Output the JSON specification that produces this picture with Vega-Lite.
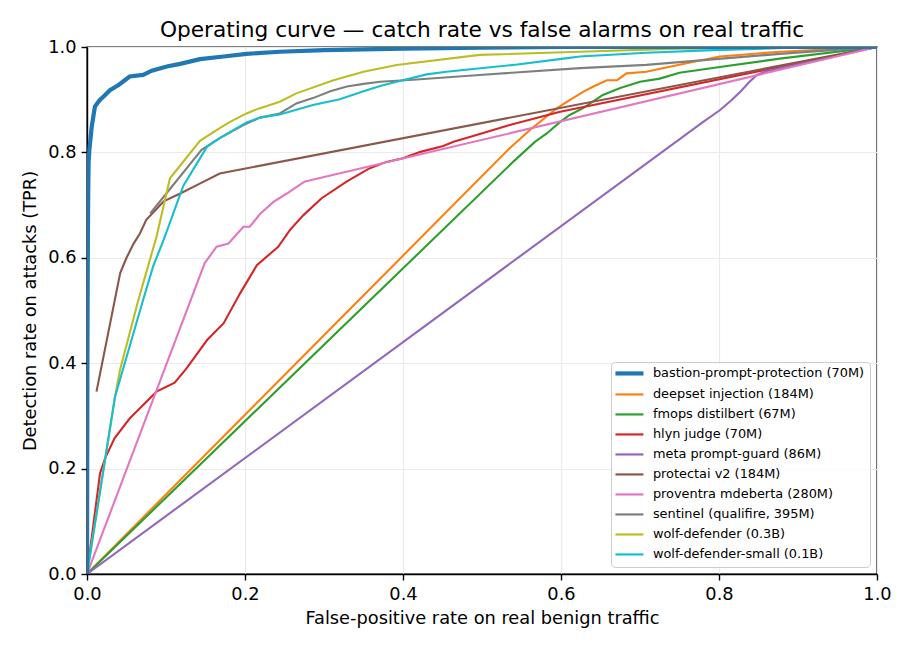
{
  "$schema": "https://vega.github.io/schema/vega-lite/v6.json",
  "autosize": {"type": "none"},
  "padding": {"left": 87, "top": 47, "right": 33, "bottom": 76},
  "width": 790,
  "height": 527,
  "background": "white",
  "title": {"text": "Operating curve — catch rate vs false alarms on real traffic", "font": "DejaVu Sans", "fontSize": 21.7, "fontWeight": "normal", "color": "black", "offset": -4, "frame": "group"},
  "config": {
    "font": "DejaVu Sans",
    "view": {"stroke": "black", "strokeWidth": 1.4},
    "axis": {"labelFont": "DejaVu Sans", "titleFont": "DejaVu Sans", "labelFontSize": 17.8, "titleFontSize": 17.8, "titleFontWeight": "normal", "labelColor": "black", "titleColor": "black", "tickColor": "black", "tickWidth": 1.4, "domainColor": "black", "domainWidth": 1.4, "tickSize": 6, "labelPadding": 5, "labelFlush": false, "labelOverlap": false, "gridColor": "#ebebeb", "gridWidth": 1.2}
  },
  "data": {"values": [
    {"model": "bastion-prompt-protection (70M)", "fpr": 0, "tpr": 0},
    {"model": "bastion-prompt-protection (70M)", "fpr": 0.0005, "tpr": 0.4},
    {"model": "bastion-prompt-protection (70M)", "fpr": 0.001, "tpr": 0.6},
    {"model": "bastion-prompt-protection (70M)", "fpr": 0.0015, "tpr": 0.72},
    {"model": "bastion-prompt-protection (70M)", "fpr": 0.002, "tpr": 0.78},
    {"model": "bastion-prompt-protection (70M)", "fpr": 0.003, "tpr": 0.805},
    {"model": "bastion-prompt-protection (70M)", "fpr": 0.006, "tpr": 0.849},
    {"model": "bastion-prompt-protection (70M)", "fpr": 0.01, "tpr": 0.887},
    {"model": "bastion-prompt-protection (70M)", "fpr": 0.016, "tpr": 0.899},
    {"model": "bastion-prompt-protection (70M)", "fpr": 0.023, "tpr": 0.909},
    {"model": "bastion-prompt-protection (70M)", "fpr": 0.029, "tpr": 0.918},
    {"model": "bastion-prompt-protection (70M)", "fpr": 0.04, "tpr": 0.928},
    {"model": "bastion-prompt-protection (70M)", "fpr": 0.054, "tpr": 0.944},
    {"model": "bastion-prompt-protection (70M)", "fpr": 0.071, "tpr": 0.947},
    {"model": "bastion-prompt-protection (70M)", "fpr": 0.082, "tpr": 0.955},
    {"model": "bastion-prompt-protection (70M)", "fpr": 0.101, "tpr": 0.963},
    {"model": "bastion-prompt-protection (70M)", "fpr": 0.118, "tpr": 0.968},
    {"model": "bastion-prompt-protection (70M)", "fpr": 0.143, "tpr": 0.977},
    {"model": "bastion-prompt-protection (70M)", "fpr": 0.173, "tpr": 0.982},
    {"model": "bastion-prompt-protection (70M)", "fpr": 0.202, "tpr": 0.987},
    {"model": "bastion-prompt-protection (70M)", "fpr": 0.244, "tpr": 0.991},
    {"model": "bastion-prompt-protection (70M)", "fpr": 0.3, "tpr": 0.994},
    {"model": "bastion-prompt-protection (70M)", "fpr": 0.4, "tpr": 0.997},
    {"model": "bastion-prompt-protection (70M)", "fpr": 0.5, "tpr": 0.999},
    {"model": "bastion-prompt-protection (70M)", "fpr": 0.6, "tpr": 1.0},
    {"model": "bastion-prompt-protection (70M)", "fpr": 1.0, "tpr": 1.0},

    {"model": "deepset injection (184M)", "fpr": 0, "tpr": 0},
    {"model": "deepset injection (184M)", "fpr": 0.535, "tpr": 0.808},
    {"model": "deepset injection (184M)", "fpr": 0.561, "tpr": 0.843},
    {"model": "deepset injection (184M)", "fpr": 0.595, "tpr": 0.884},
    {"model": "deepset injection (184M)", "fpr": 0.611, "tpr": 0.899},
    {"model": "deepset injection (184M)", "fpr": 0.628, "tpr": 0.915},
    {"model": "deepset injection (184M)", "fpr": 0.641, "tpr": 0.925},
    {"model": "deepset injection (184M)", "fpr": 0.658, "tpr": 0.937},
    {"model": "deepset injection (184M)", "fpr": 0.671, "tpr": 0.937},
    {"model": "deepset injection (184M)", "fpr": 0.683, "tpr": 0.95},
    {"model": "deepset injection (184M)", "fpr": 0.708, "tpr": 0.953},
    {"model": "deepset injection (184M)", "fpr": 0.73, "tpr": 0.96},
    {"model": "deepset injection (184M)", "fpr": 0.759, "tpr": 0.969},
    {"model": "deepset injection (184M)", "fpr": 0.801, "tpr": 0.982},
    {"model": "deepset injection (184M)", "fpr": 0.877, "tpr": 0.991},
    {"model": "deepset injection (184M)", "fpr": 1.0, "tpr": 1.0},

    {"model": "fmops distilbert (67M)", "fpr": 0, "tpr": 0},
    {"model": "fmops distilbert (67M)", "fpr": 0.54, "tpr": 0.783},
    {"model": "fmops distilbert (67M)", "fpr": 0.567, "tpr": 0.82},
    {"model": "fmops distilbert (67M)", "fpr": 0.582, "tpr": 0.836},
    {"model": "fmops distilbert (67M)", "fpr": 0.599, "tpr": 0.858},
    {"model": "fmops distilbert (67M)", "fpr": 0.611, "tpr": 0.871},
    {"model": "fmops distilbert (67M)", "fpr": 0.628, "tpr": 0.884},
    {"model": "fmops distilbert (67M)", "fpr": 0.653, "tpr": 0.909},
    {"model": "fmops distilbert (67M)", "fpr": 0.675, "tpr": 0.922},
    {"model": "fmops distilbert (67M)", "fpr": 0.7, "tpr": 0.934},
    {"model": "fmops distilbert (67M)", "fpr": 0.725, "tpr": 0.94},
    {"model": "fmops distilbert (67M)", "fpr": 0.75, "tpr": 0.951},
    {"model": "fmops distilbert (67M)", "fpr": 0.801, "tpr": 0.962},
    {"model": "fmops distilbert (67M)", "fpr": 0.877, "tpr": 0.978},
    {"model": "fmops distilbert (67M)", "fpr": 1.0, "tpr": 1.0},

    {"model": "hlyn judge (70M)", "fpr": 0, "tpr": 0},
    {"model": "hlyn judge (70M)", "fpr": 0.0165, "tpr": 0.191},
    {"model": "hlyn judge (70M)", "fpr": 0.023, "tpr": 0.22},
    {"model": "hlyn judge (70M)", "fpr": 0.035, "tpr": 0.258},
    {"model": "hlyn judge (70M)", "fpr": 0.054, "tpr": 0.295},
    {"model": "hlyn judge (70M)", "fpr": 0.088, "tpr": 0.346},
    {"model": "hlyn judge (70M)", "fpr": 0.111, "tpr": 0.363},
    {"model": "hlyn judge (70M)", "fpr": 0.126, "tpr": 0.39},
    {"model": "hlyn judge (70M)", "fpr": 0.152, "tpr": 0.444},
    {"model": "hlyn judge (70M)", "fpr": 0.173, "tpr": 0.476},
    {"model": "hlyn judge (70M)", "fpr": 0.194, "tpr": 0.533},
    {"model": "hlyn judge (70M)", "fpr": 0.215, "tpr": 0.586},
    {"model": "hlyn judge (70M)", "fpr": 0.242, "tpr": 0.621},
    {"model": "hlyn judge (70M)", "fpr": 0.257, "tpr": 0.653},
    {"model": "hlyn judge (70M)", "fpr": 0.274, "tpr": 0.681},
    {"model": "hlyn judge (70M)", "fpr": 0.297, "tpr": 0.713},
    {"model": "hlyn judge (70M)", "fpr": 0.329, "tpr": 0.745},
    {"model": "hlyn judge (70M)", "fpr": 0.358, "tpr": 0.77},
    {"model": "hlyn judge (70M)", "fpr": 0.379, "tpr": 0.782},
    {"model": "hlyn judge (70M)", "fpr": 0.4, "tpr": 0.789},
    {"model": "hlyn judge (70M)", "fpr": 0.422, "tpr": 0.801},
    {"model": "hlyn judge (70M)", "fpr": 0.451, "tpr": 0.812},
    {"model": "hlyn judge (70M)", "fpr": 0.464, "tpr": 0.82},
    {"model": "hlyn judge (70M)", "fpr": 0.493, "tpr": 0.833},
    {"model": "hlyn judge (70M)", "fpr": 0.535, "tpr": 0.852},
    {"model": "hlyn judge (70M)", "fpr": 0.599, "tpr": 0.877},
    {"model": "hlyn judge (70M)", "fpr": 1.0, "tpr": 1.0},

    {"model": "meta prompt-guard (86M)", "fpr": 0, "tpr": 0},
    {"model": "meta prompt-guard (86M)", "fpr": 0.78, "tpr": 0.858},
    {"model": "meta prompt-guard (86M)", "fpr": 0.801, "tpr": 0.88},
    {"model": "meta prompt-guard (86M)", "fpr": 0.815, "tpr": 0.898},
    {"model": "meta prompt-guard (86M)", "fpr": 0.827, "tpr": 0.915},
    {"model": "meta prompt-guard (86M)", "fpr": 0.838, "tpr": 0.933},
    {"model": "meta prompt-guard (86M)", "fpr": 0.848, "tpr": 0.947},
    {"model": "meta prompt-guard (86M)", "fpr": 0.86, "tpr": 0.954},
    {"model": "meta prompt-guard (86M)", "fpr": 1.0, "tpr": 1.0},

    {"model": "protectai v2 (184M)", "fpr": 0.012, "tpr": 0.346},
    {"model": "protectai v2 (184M)", "fpr": 0.042, "tpr": 0.571},
    {"model": "protectai v2 (184M)", "fpr": 0.05, "tpr": 0.6},
    {"model": "protectai v2 (184M)", "fpr": 0.059, "tpr": 0.627},
    {"model": "protectai v2 (184M)", "fpr": 0.067, "tpr": 0.646},
    {"model": "protectai v2 (184M)", "fpr": 0.075, "tpr": 0.672},
    {"model": "protectai v2 (184M)", "fpr": 0.097, "tpr": 0.707},
    {"model": "protectai v2 (184M)", "fpr": 0.118, "tpr": 0.722},
    {"model": "protectai v2 (184M)", "fpr": 0.139, "tpr": 0.738},
    {"model": "protectai v2 (184M)", "fpr": 0.168, "tpr": 0.76},
    {"model": "protectai v2 (184M)", "fpr": 1.0, "tpr": 1.0},

    {"model": "proventra mdeberta (280M)", "fpr": 0, "tpr": 0},
    {"model": "proventra mdeberta (280M)", "fpr": 0.149, "tpr": 0.59},
    {"model": "proventra mdeberta (280M)", "fpr": 0.164, "tpr": 0.621},
    {"model": "proventra mdeberta (280M)", "fpr": 0.179, "tpr": 0.627},
    {"model": "proventra mdeberta (280M)", "fpr": 0.198, "tpr": 0.659},
    {"model": "proventra mdeberta (280M)", "fpr": 0.206, "tpr": 0.659},
    {"model": "proventra mdeberta (280M)", "fpr": 0.219, "tpr": 0.683},
    {"model": "proventra mdeberta (280M)", "fpr": 0.236, "tpr": 0.706},
    {"model": "proventra mdeberta (280M)", "fpr": 0.253, "tpr": 0.722},
    {"model": "proventra mdeberta (280M)", "fpr": 0.272, "tpr": 0.741},
    {"model": "proventra mdeberta (280M)", "fpr": 0.276, "tpr": 0.745},
    {"model": "proventra mdeberta (280M)", "fpr": 1.0, "tpr": 1.0},

    {"model": "sentinel (qualifire, 395M)", "fpr": 0.08, "tpr": 0.684},
    {"model": "sentinel (qualifire, 395M)", "fpr": 0.145, "tpr": 0.805},
    {"model": "sentinel (qualifire, 395M)", "fpr": 0.168, "tpr": 0.827},
    {"model": "sentinel (qualifire, 395M)", "fpr": 0.198, "tpr": 0.852},
    {"model": "sentinel (qualifire, 395M)", "fpr": 0.219, "tpr": 0.866},
    {"model": "sentinel (qualifire, 395M)", "fpr": 0.244, "tpr": 0.874},
    {"model": "sentinel (qualifire, 395M)", "fpr": 0.265, "tpr": 0.893},
    {"model": "sentinel (qualifire, 395M)", "fpr": 0.286, "tpr": 0.903},
    {"model": "sentinel (qualifire, 395M)", "fpr": 0.308, "tpr": 0.916},
    {"model": "sentinel (qualifire, 395M)", "fpr": 0.329, "tpr": 0.925},
    {"model": "sentinel (qualifire, 395M)", "fpr": 0.35, "tpr": 0.93},
    {"model": "sentinel (qualifire, 395M)", "fpr": 0.371, "tpr": 0.934},
    {"model": "sentinel (qualifire, 395M)", "fpr": 0.413, "tpr": 0.938},
    {"model": "sentinel (qualifire, 395M)", "fpr": 0.497, "tpr": 0.947},
    {"model": "sentinel (qualifire, 395M)", "fpr": 0.624, "tpr": 0.96},
    {"model": "sentinel (qualifire, 395M)", "fpr": 0.708, "tpr": 0.966},
    {"model": "sentinel (qualifire, 395M)", "fpr": 0.877, "tpr": 0.987},
    {"model": "sentinel (qualifire, 395M)", "fpr": 1.0, "tpr": 1.0},

    {"model": "wolf-defender (0.3B)", "fpr": 0, "tpr": 0},
    {"model": "wolf-defender (0.3B)", "fpr": 0.0354, "tpr": 0.336},
    {"model": "wolf-defender (0.3B)", "fpr": 0.0418, "tpr": 0.387},
    {"model": "wolf-defender (0.3B)", "fpr": 0.065, "tpr": 0.52},
    {"model": "wolf-defender (0.3B)", "fpr": 0.088, "tpr": 0.64},
    {"model": "wolf-defender (0.3B)", "fpr": 0.105, "tpr": 0.751},
    {"model": "wolf-defender (0.3B)", "fpr": 0.143, "tpr": 0.822},
    {"model": "wolf-defender (0.3B)", "fpr": 0.168, "tpr": 0.846},
    {"model": "wolf-defender (0.3B)", "fpr": 0.181, "tpr": 0.858},
    {"model": "wolf-defender (0.3B)", "fpr": 0.202, "tpr": 0.874},
    {"model": "wolf-defender (0.3B)", "fpr": 0.219, "tpr": 0.884},
    {"model": "wolf-defender (0.3B)", "fpr": 0.244, "tpr": 0.896},
    {"model": "wolf-defender (0.3B)", "fpr": 0.265, "tpr": 0.912},
    {"model": "wolf-defender (0.3B)", "fpr": 0.312, "tpr": 0.937},
    {"model": "wolf-defender (0.3B)", "fpr": 0.35, "tpr": 0.953},
    {"model": "wolf-defender (0.3B)", "fpr": 0.392, "tpr": 0.966},
    {"model": "wolf-defender (0.3B)", "fpr": 0.497, "tpr": 0.985},
    {"model": "wolf-defender (0.3B)", "fpr": 0.624, "tpr": 0.991},
    {"model": "wolf-defender (0.3B)", "fpr": 0.75, "tpr": 0.997},
    {"model": "wolf-defender (0.3B)", "fpr": 1.0, "tpr": 1.0},

    {"model": "wolf-defender-small (0.1B)", "fpr": 0, "tpr": 0},
    {"model": "wolf-defender-small (0.1B)", "fpr": 0.0354, "tpr": 0.336},
    {"model": "wolf-defender-small (0.1B)", "fpr": 0.071, "tpr": 0.52},
    {"model": "wolf-defender-small (0.1B)", "fpr": 0.084, "tpr": 0.585},
    {"model": "wolf-defender-small (0.1B)", "fpr": 0.097, "tpr": 0.634},
    {"model": "wolf-defender-small (0.1B)", "fpr": 0.122, "tpr": 0.737},
    {"model": "wolf-defender-small (0.1B)", "fpr": 0.152, "tpr": 0.811},
    {"model": "wolf-defender-small (0.1B)", "fpr": 0.168, "tpr": 0.827},
    {"model": "wolf-defender-small (0.1B)", "fpr": 0.202, "tpr": 0.857},
    {"model": "wolf-defender-small (0.1B)", "fpr": 0.219, "tpr": 0.866},
    {"model": "wolf-defender-small (0.1B)", "fpr": 0.244, "tpr": 0.872},
    {"model": "wolf-defender-small (0.1B)", "fpr": 0.286, "tpr": 0.89},
    {"model": "wolf-defender-small (0.1B)", "fpr": 0.32, "tpr": 0.901},
    {"model": "wolf-defender-small (0.1B)", "fpr": 0.35, "tpr": 0.916},
    {"model": "wolf-defender-small (0.1B)", "fpr": 0.371, "tpr": 0.926},
    {"model": "wolf-defender-small (0.1B)", "fpr": 0.392, "tpr": 0.934},
    {"model": "wolf-defender-small (0.1B)", "fpr": 0.43, "tpr": 0.948},
    {"model": "wolf-defender-small (0.1B)", "fpr": 0.455, "tpr": 0.953},
    {"model": "wolf-defender-small (0.1B)", "fpr": 0.54, "tpr": 0.966},
    {"model": "wolf-defender-small (0.1B)", "fpr": 0.603, "tpr": 0.978},
    {"model": "wolf-defender-small (0.1B)", "fpr": 0.624, "tpr": 0.982},
    {"model": "wolf-defender-small (0.1B)", "fpr": 0.708, "tpr": 0.989},
    {"model": "wolf-defender-small (0.1B)", "fpr": 0.793, "tpr": 0.994},
    {"model": "wolf-defender-small (0.1B)", "fpr": 0.9, "tpr": 0.999},
    {"model": "wolf-defender-small (0.1B)", "fpr": 1.0, "tpr": 1.0}
  ]},
  "encoding": {
    "x": {"field": "fpr", "type": "quantitative", "scale": {"domain": [0, 1], "nice": false, "zero": false}, "axis": {"title": "False-positive rate on real benign traffic", "values": [0, 0.2, 0.4, 0.6, 0.8, 1.0], "format": ".1f", "titlePadding": 7}},
    "y": {"field": "tpr", "type": "quantitative", "scale": {"domain": [0, 1], "nice": false, "zero": false}, "axis": {"title": "Detection rate on attacks (TPR)", "values": [0, 0.2, 0.4, 0.6, 0.8, 1.0], "format": ".1f", "titlePadding": 8}},
    "color": {"field": "model", "type": "nominal",
      "scale": {"domain": ["bastion-prompt-protection (70M)", "deepset injection (184M)", "fmops distilbert (67M)", "hlyn judge (70M)", "meta prompt-guard (86M)", "protectai v2 (184M)", "proventra mdeberta (280M)", "sentinel (qualifire, 395M)", "wolf-defender (0.3B)", "wolf-defender-small (0.1B)"],
                "range": ["#1f77b4", "#ff7f0e", "#2ca02c", "#d62728", "#9467bd", "#8c564b", "#e377c2", "#7f7f7f", "#bcbd22", "#17becf"]},
      "legend": {"title": null, "orient": "bottom-right", "offset": 7, "fillColor": "rgba(255,255,255,0.8)", "strokeColor": "#cccccc", "cornerRadius": 4, "padding": 5, "labelFont": "DejaVu Sans", "labelFontSize": 12.9, "labelColor": "black", "labelLimit": 300, "symbolType": "stroke", "symbolSize": 784, "symbolOffset": 7, "labelOffset": 17, "rowPadding": 6,
        "encode": {"symbols": {"update": {"strokeWidth": {"signal": "datum.value === 'bastion-prompt-protection (70M)' ? 4.2 : 2.2"}, "opacity": {"value": 1}}}}}
    }
  },
  "layer": [
    {"transform": [{"filter": "datum.model !== 'bastion-prompt-protection (70M)'"}], "mark": {"type": "line", "strokeWidth": 2.1, "clip": true}},
    {"transform": [{"filter": "datum.model === 'bastion-prompt-protection (70M)'"}], "mark": {"type": "line", "strokeWidth": 4.2, "clip": true}}
  ]
}
